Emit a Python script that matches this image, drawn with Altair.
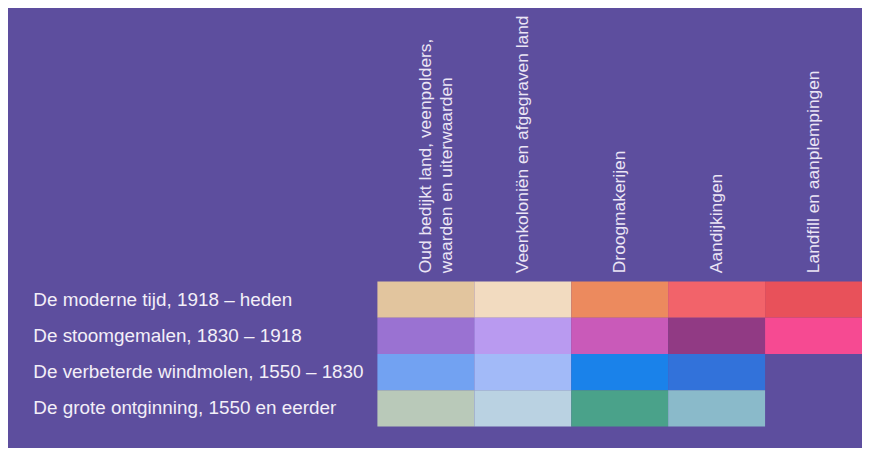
import altair as alt
import pandas as pd

periods = [
    "De moderne tijd, 1918 – heden",
    "De stoomgemalen, 1830 – 1918",
    "De verbeterde windmolen, 1550 – 1830",
    "De grote ontginning, 1550 en eerder",
]
landtypes = [
    "Oud bedijkt land, veenpolders, waarden en uiterwaarden",
    "Veenkoloniën en afgegraven land",
    "Droogmakerijen",
    "Aandijkingen",
    "Landfill en aanplempingen",
]
# colour per (period, landtype); None = no cell
colors_modern = ["#e2c59e", "#f2dbc0", "#ec8a5e", "#f2636a", "#e8515a"]
colors_stoom = ["#9a72d2", "#b99af0", "#c95ab9", "#913a84", "#f64a92"]
colors_windmolen = ["#72a2f2", "#a2baf8", "#1a82ea", "#3272da", None]
colors_ontginning = ["#b9c9b9", "#bad2e2", "#4aa28a", "#8abaca", None]

rows = []
for period, cols in zip(periods, [colors_modern, colors_stoom, colors_windmolen, colors_ontginning]):
    for lt, c in zip(landtypes, cols):
        if c is not None:
            rows.append({"periode": period, "landtype": lt, "kleur": c})
df = pd.DataFrame(rows)

label_expr = (
    "datum.label == 'Oud bedijkt land, veenpolders, waarden en uiterwaarden' "
    "? ['Oud bedijkt land, veenpolders,', 'waarden en uiterwaarden'] : datum.label"
)

chart = (
    alt.Chart(df)
    .mark_rect()
    .encode(
        x=alt.X(
            "landtype:N",
            sort=landtypes,
            scale=alt.Scale(paddingInner=0, paddingOuter=0),
            axis=alt.Axis(
                orient="top",
                title=None,
                labelAngle=270,
                labelAlign="left",
                labelBaseline="middle",
                labelPadding=9,
                labelExpr=label_expr,
                labelLineHeight=21,
                labelFont="Liberation Sans",
                labelFontSize=17.5,
                labelColor="#ebe5f5",
                labelLimit=400,
                ticks=False,
                tickSize=0,
                domain=False,
                labelOverlap=False,
            ),
        ),
        y=alt.Y(
            "periode:N",
            sort=periods,
            scale=alt.Scale(paddingInner=0, paddingOuter=0),
            axis=alt.Axis(
                title=None,
                labelAlign="left",
                labelBaseline="middle",
                labelPadding=347,
                labelFont="Liberation Sans",
                labelFontSize=19,
                labelColor="#f3eff8",
                labelLimit=400,
                ticks=False,
                tickSize=0,
                domain=False,
            ),
        ),
        color=alt.Color("kleur:N", scale=None),
    )
    .properties(
        width=488,
        height=146,
        autosize=alt.AutoSizeParams(type="none"),
        padding={"left": 372, "top": 274, "right": 0, "bottom": 20},
        background="#5d4e9e",
    )
    .configure_view(stroke=None)
)

chart.save("out.html", embed_options={"renderer": "svg", "actions": False})
